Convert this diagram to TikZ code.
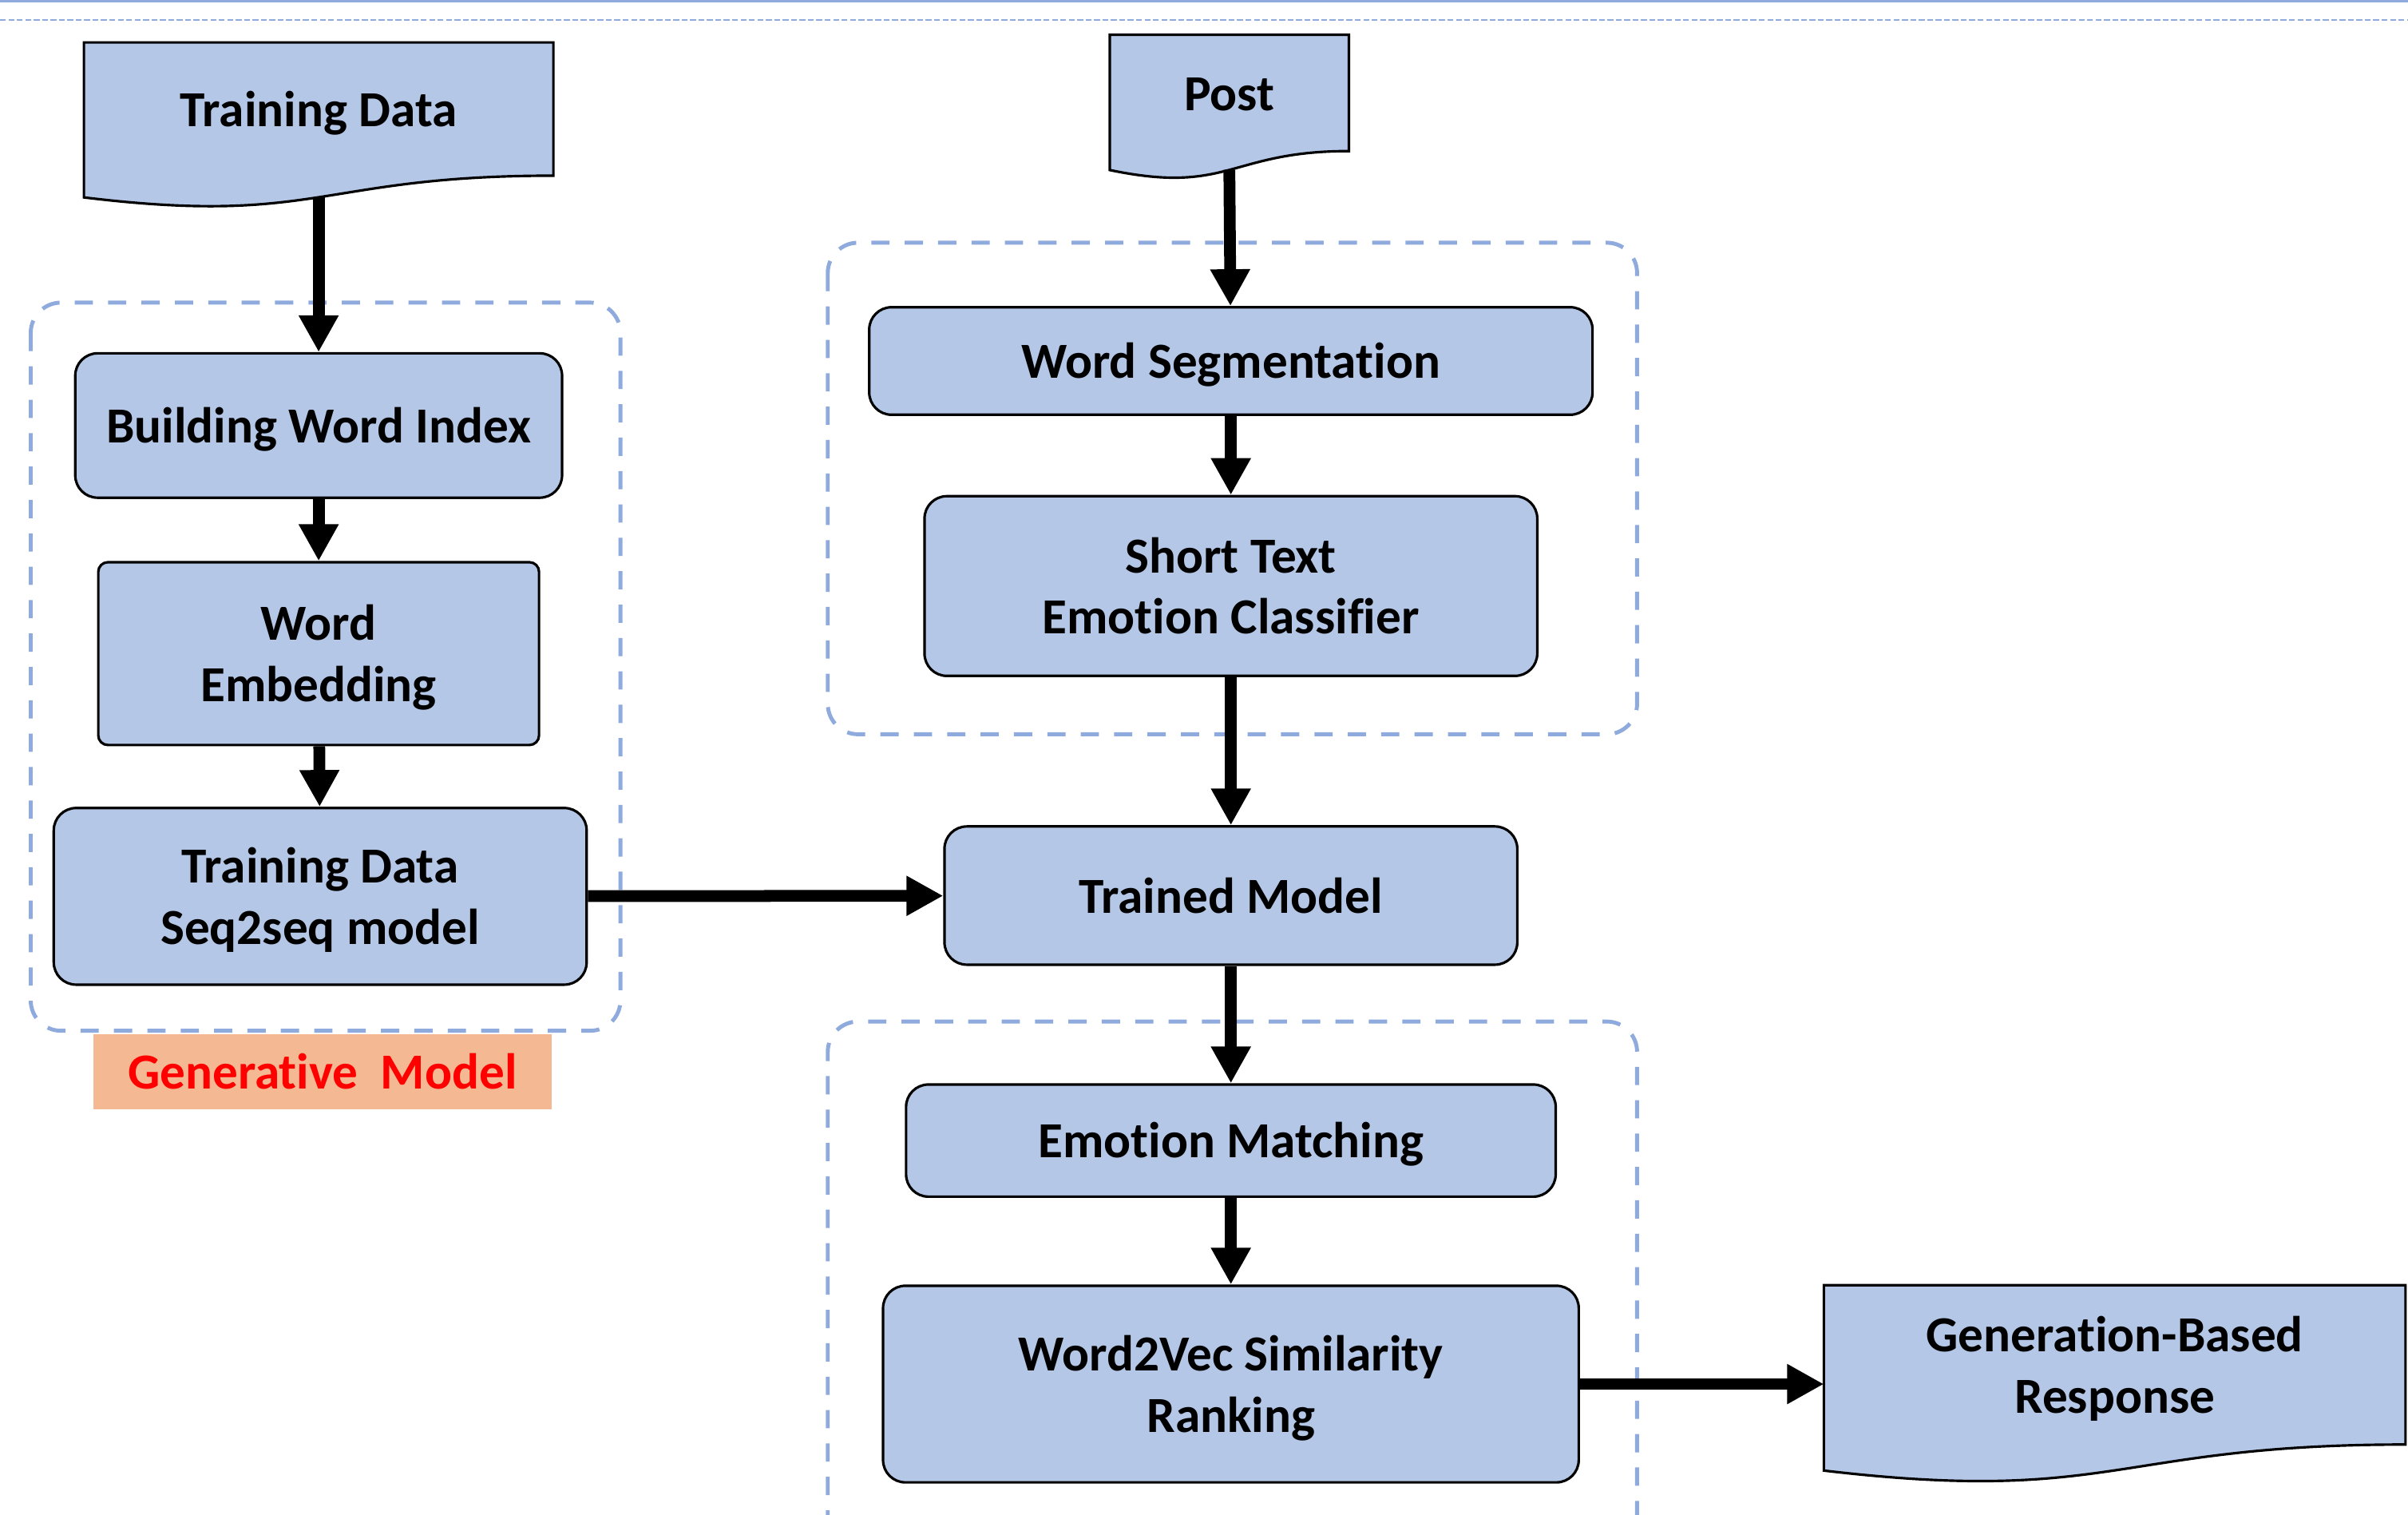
\documentclass[tikz,border=0pt]{standalone}
\usepackage{fontspec}
\setmainfont{Carlito}[Ligatures=NoCommon]
\usetikzlibrary{arrows.meta,backgrounds}

\definecolor{boxblue}{HTML}{B4C7E7}
\definecolor{groupblue}{HTML}{8FAADC}
\definecolor{tagorange}{HTML}{F4B993}

\newlength{\px}
\setlength{\px}{0.019235cm}
\newcommand{\topstrut}{\rule{0pt}{17.4pt}}

\tikzset{
  textstrut/.style={execute at begin node={\topstrut},execute at end node={\rule[-5pt]{0pt}{5pt}}},
  flowbox/.style={textstrut,draw,fill=boxblue,line width=0.9pt,rounded corners=0.28cm,align=center,inner sep=0pt},
  docbox/.style={textstrut,align=center,inner sep=0pt},
  docline/.style={draw=black,fill=boxblue,line width=0.9pt},
  groupline/.style={draw=groupblue,line width=1.4pt,dash pattern=on 6.5pt off 5.4pt,rounded corners=0.38cm},
  flowarrow/.style={draw,line width=4.2pt,-{Triangle[length=0.46cm,width=0.47cm]}},
}

% document shape below a text node: #1 node, #2 full height
\newcommand{\docwave}[2]{%
  \draw[docline] (#1.north west) -- (#1.north east) -- (#1.south east)
    .. controls (#1.south) and ([yshift={-0.3055*#2*\px}]#1.south)
    .. ([yshift={-0.132*#2*\px}]#1.south west) -- cycle;}

\begin{document}
\begin{tikzpicture}[x=0.019235cm,y=-0.019235cm,font=\fontsize{18}{21.8}\selectfont\bfseries]

        \useasboundingbox (0,0) rectangle (1568,986);

        % page rules
        \draw[groupblue,line width=0.85pt] (0,0.8) -- (1568,0.8);
        \draw[groupblue,line width=0.6pt,dash pattern=on 2.1pt off 0.9pt] (0,13) -- (1568,13);

        % groups
        \draw[groupline] (20,197) rectangle (404,671);
        \draw[groupline] (539,158) rectangle (1066,478);
        \draw[groupline] (539,995) -- (539,665) -- (1066,665) -- (1066,995);

        \begin{scope}[every node/.style={docbox}]
          \node[minimum width=305*\px,minimum height=86*\px] (td)  at (207.5,71)   {Training Data};
          \node[minimum width=155*\px,minimum height=75*\px] (post) at (800.5,60.5) {Post};
          \node[minimum width=378*\px,minimum height=103*\px] (gbr) at (1377,888.5) {\topstrut Generation-Based\\Response};
        \end{scope}

        \begin{scope}[on background layer]
          \docwave{td}{107.2}
          \docwave{post}{93.5}
          \docwave{gbr}{128.4}
        \end{scope}

        \coordinate (td-b)   at ([yshift=-14*\px]td.south);
        \coordinate (post-b) at ([yshift=-12.2*\px]post.south);

        \begin{scope}[every node/.style={flowbox}]
          \node[minimum width=317*\px,minimum height=94*\px]  (bwi)  at (207.5,277)   {Building Word Index};
          \node[minimum width=287*\px,minimum height=119*\px,rounded corners=0.12cm] (we) at (207.5,425.5) {\topstrut Word\\Embedding};
          \node[minimum width=347*\px,minimum height=115*\px] (seq)  at (208.5,583.5) {\topstrut Training Data\\Seq2seq model};
          \node[minimum width=471*\px,minimum height=70*\px]  (ws)   at (801.5,235)   {Word Segmentation};
          \node[minimum width=399*\px,minimum height=117*\px] (stec) at (801.5,381.5) {\topstrut Short Text\\Emotion Classifier};
          \node[minimum width=373*\px,minimum height=90*\px]  (tm)   at (801.5,583)   {Trained Model};
          \node[minimum width=423*\px,minimum height=73*\px]  (em)   at (801.5,742.5) {Emotion Matching};
          \node[minimum width=453*\px,minimum height=128*\px] (w2v)  at (801.5,901)   {\topstrut Word2Vec Similarity\\Ranking};
        \end{scope}

        \node[textstrut,fill=tagorange,text=red,minimum width=298*\px,minimum height=49*\px,inner sep=0pt] (gm) at (210,697.5) {Generative\ \ Model};

        \begin{scope}[every edge/.style={flowarrow}]
          \path (td-b)   edge (bwi);
          \path (bwi)    edge (we);
          \path (we)     edge (seq);
          \path (seq)    edge (tm);
          \path (post-b) edge (ws);
          \path (ws)     edge (stec);
          \path (stec)   edge (tm);
          \path (tm)     edge (em);
          \path (em)     edge (w2v);
          \path (w2v.east) edge (w2v.east -| gbr.west);
        \end{scope}

      \end{tikzpicture}
\end{document}
